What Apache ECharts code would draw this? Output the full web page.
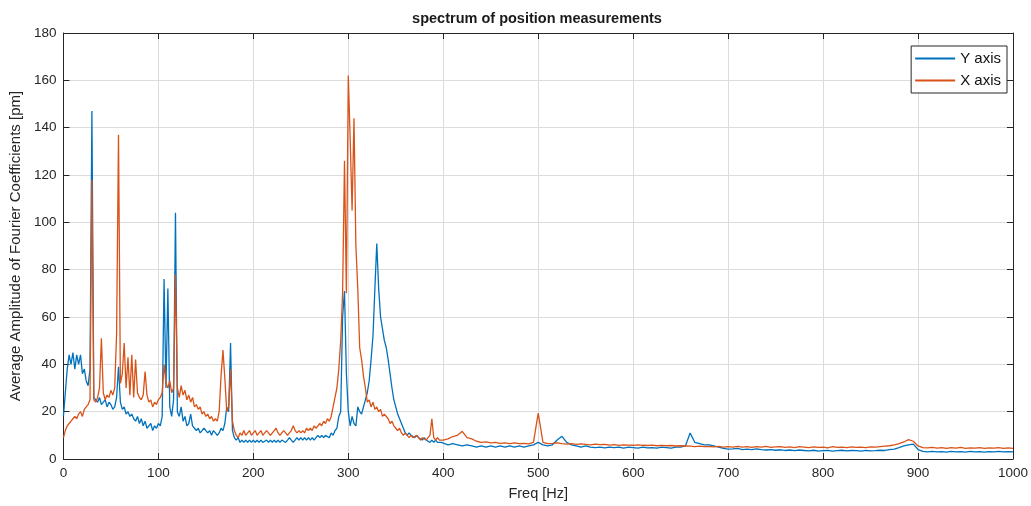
<!DOCTYPE html>
<html>
<head>
<meta charset="utf-8">
<script src="https://cdn.jsdelivr.net/npm/echarts@6/dist/echarts.min.js"></script>
<style>
html,body{margin:0;padding:0;background:#fff;}
#chart{width:1031px;height:506px;}
</style>
</head>
<body>
<div id="chart"></div>
<script>
// Sampling grids (Hz)
const lowStart = 0, lowStep = 2;     // 0..400 Hz
const highStart = 405, highStep = 5; // 405..1000 Hz

// Y axis (blue) amplitudes, 0..400 Hz every 2 Hz
const yAxisLow = [
18,28,38,44,40,45,38,44,40,44, 36,38,33,31,38,147,26,25,24,26,
23,24,25,22,24,23,21,22,26,39, 24,21,22,19,20,18,19,17,16,18,
15,17,14,16,13,14,15,12,14,13, 15,14,18,76,30,72,22,18,25,104,
20,18,22,16,18,14,15,19,14,13, 12,13,11,12,13,12,11,12,10,12,
11,10,11,13,12,15,22,20,49,12, 9,8,9,7,8,7,8,7,8,7,
8,7,8,7,8,7,7,8,7,8, 7,8,7,8,7,8,8,7,8,9,
8,7,8,9,8,9,8,9,8,9, 8,9,8,9,10,9,10,9,10,10,
9,11,10,12,13,18,20,60,71,36, 20,14,18,15,14,22,20,19,22,25,
28,33,42,52,72,91,72,60,55,50, 47,42,36,30,25,22,19,17,15,13,
11,10,11,10,10,9,10,9,9,8, 9,8,8,7,8,7,8,7,7,7,
7
];
// X axis (red) amplitudes, 0..400 Hz every 2 Hz
const xAxisLow = [
9,12,14,15,16,17,18,17,19,20, 18,21,22,23,25,118,25,24,26,30,
51,28,25,27,26,29,27,30,53,137, 32,36,49,30,43,27,44,26,42,28,
26,25,27,37,27,24,25,22,24,23, 25,26,28,40,32,30,33,28,30,78,
30,26,31,27,29,25,27,24,26,22, 23,21,22,19,20,18,19,17,18,16,
17,16,20,35,46,34,20,22,38,16, 12,10,9,11,10,12,10,11,12,10,
11,12,10,11,12,10,11,12,11,10, 11,12,13,11,10,11,12,11,10,11,
12,14,12,11,12,11,12,11,13,12, 13,12,14,13,14,15,14,16,15,17,
16,18,22,26,30,38,50,70,126,70, 162,135,105,144,90,72,47,42,35,30,
24,25,22,24,21,22,20,21,18,19, 19,17,15,16,14,13,12,13,11,10,
11,10,9,10,9,9,10,9,8,9, 9,8,9,10,17,9,8,9,8,8,
8
];
// Y axis (blue) amplitudes, 405..1000 Hz every 5 Hz
const yAxisHigh = [
6,6.5,6,5.5,6,5.5,5,5.5,5,5.5, 5,5.5,5,5.5,5,5.5,5,5.5,6,7,
6,5.5,6,8,9.6,7,6,5.5,5,5.5, 5,4.8,5,4.7,5,4.8,5,4.6,5,4.8,
4.6,5,4.7,4.8,4.6,5,4.8,4.6,5,5, 5.5,11,7,6.5,6,6,5.5,5,4.5,4.2,
4.3,4.5,4,4.2,4,4.3,4,3.8,4,3.7, 3.9,3.6,3.8,3.5,3.8,3.6,3.4,3.7,3.3,3.5,
3.6,3.3,3.5,3.7,3.4,3.6,3.5,3.3,3.6,3.4, 3.5,3.7,3.6,4,4.2,4.8,5.5,6,6.3,4,
3.2,3,3.2,3,3.1,2.9,3.2,3,3.1,2.9, 3.2,3,3.1,2.9,3.1,3,3.2,3,3.1,3
];
// X axis (red) amplitudes, 405..1000 Hz every 5 Hz
const xAxisHigh = [
8.5,9.5,10,11.7,9,8.5,7.5,7,7.2,6.8, 7,6.6,6.8,6.5,6.8,6.5,6.6,6.4,7,19.4,
7,6.5,6.6,6.8,6.5,6.3,6.5,6.2,6.4,6.2, 6,6.3,6.1,6.2,5.9,6.1,5.8,6,5.9,5.8,
6,5.8,5.7,5.9,5.6,5.8,5.6,5.7,5.5,5.6, 5.5,5.4,5.2,5.4,5.2,5.3,5.1,5.3,5,5.2,
5,5.3,5,5.2,4.9,5.2,5,5.3,4.9,5.1, 5.2,4.9,5.1,4.8,5.2,5,4.8,5.1,4.9,5,
4.7,5.2,4.9,5,4.8,5.1,4.9,5,4.8,5.1, 5,5.2,5.4,5.6,6,6.5,7.2,8.2,7.5,5.5,
4.8,4.7,4.9,4.6,4.8,4.5,4.8,4.6,4.9,4.5, 4.7,4.6,4.8,4.5,4.7,4.6,4.8,4.5,4.7,4.5
];

const xTicks = [0,100,200,300,400,500,600,700,800,900,1000];
const yTicks = [0,20,40,60,80,100,120,140,160,180];

function pairs(low, high) {
  const out = [];
  low.forEach((v, i) => out.push([lowStart + i * lowStep, v]));
  high.forEach((v, i) => out.push([highStart + i * highStep, v]));
  return out;
}

const FONT = 'Liberation Sans, Arial, Helvetica, sans-serif';
const AX = '#262626';
const chart = echarts.init(document.getElementById('chart'), null, {renderer: 'canvas'});
const baseAxis = {
  axisLine: {show: true, onZero: false, lineStyle: {color: AX, width: 1}},
  axisTick: {show: true, inside: true, length: 6, lineStyle: {color: AX}},
  splitLine: {show: false},
  axisLabel: {show: false}
};
chart.setOption({
  animation: false,
  backgroundColor: '#ffffff',
  graphic: [{
    type: 'text',
    x: 537, y: 11,
    style: {
      text: 'spectrum of position measurements',
      x: 0, y: 0, align: 'center', verticalAlign: 'top',
      fontFamily: FONT, fontSize: 14.5, fontWeight: 'bold', fill: '#1a1a1a'
    }
  }],
  legend: {
    right: 24, top: 46, orient: 'vertical',
    data: ['Y axis', 'X axis'],
    icon: 'rect', itemWidth: 40, itemHeight: 2, itemGap: 7,
    borderColor: AX, borderWidth: 1, backgroundColor: '#fff',
    padding: [5, 6, 5, 4],
    textStyle: {fontFamily: FONT, fontSize: 15, color: '#111', padding: [0, 0, 0, 0]}
  },
  grid: {left: 59, right: 15, top: 33, bottom: 43, containLabel: false},
  xAxis: [
    Object.assign({}, baseAxis, {
      type: 'value', min: xTicks[0], max: xTicks[xTicks.length - 1], interval: 100,
      position: 'bottom',
      name: 'Freq [Hz]', nameLocation: 'middle', nameGap: 27,
      nameTextStyle: {fontFamily: FONT, fontSize: 14.5, color: '#262626'},
      splitLine: {show: true, lineStyle: {color: '#dcdcdc', width: 1}},
      axisLabel: {show: true, margin: 7, fontFamily: FONT, fontSize: 13.5, color: '#262626',
        formatter: v => String(v)}
    }),
    Object.assign({}, baseAxis, {
      type: 'value', min: 0, max: 1000, interval: 100, position: 'top'
    })
  ],
  yAxis: [
    Object.assign({}, baseAxis, {
      type: 'value', min: yTicks[0], max: yTicks[yTicks.length - 1], interval: 20,
      position: 'left',
      name: 'Average Amplitude of Fourier Coefficients [pm]', nameLocation: 'middle', nameGap: 28,
      nameTextStyle: {fontFamily: FONT, fontSize: 15, color: '#262626'},
      splitLine: {show: true, lineStyle: {color: '#dcdcdc', width: 1}},
      axisLabel: {show: true, margin: 7, fontFamily: FONT, fontSize: 13.5, color: '#262626',
        formatter: v => String(v)}
    }),
    Object.assign({}, baseAxis, {
      type: 'value', min: 0, max: 180, interval: 20, position: 'right'
    })
  ],
  series: [
    {
      name: 'Y axis', type: 'line', xAxisIndex: 0, yAxisIndex: 0,
      data: pairs(yAxisLow, yAxisHigh),
      showSymbol: false, symbol: 'none',
      lineStyle: {color: '#0072BD', width: 1.3},
      itemStyle: {color: '#0072BD'}
    },
    {
      name: 'X axis', type: 'line', xAxisIndex: 0, yAxisIndex: 0,
      data: pairs(xAxisLow, xAxisHigh),
      showSymbol: false, symbol: 'none',
      lineStyle: {color: '#D95319', width: 1.3},
      itemStyle: {color: '#D95319'}
    }
  ]
});
</script>
</body>
</html>
